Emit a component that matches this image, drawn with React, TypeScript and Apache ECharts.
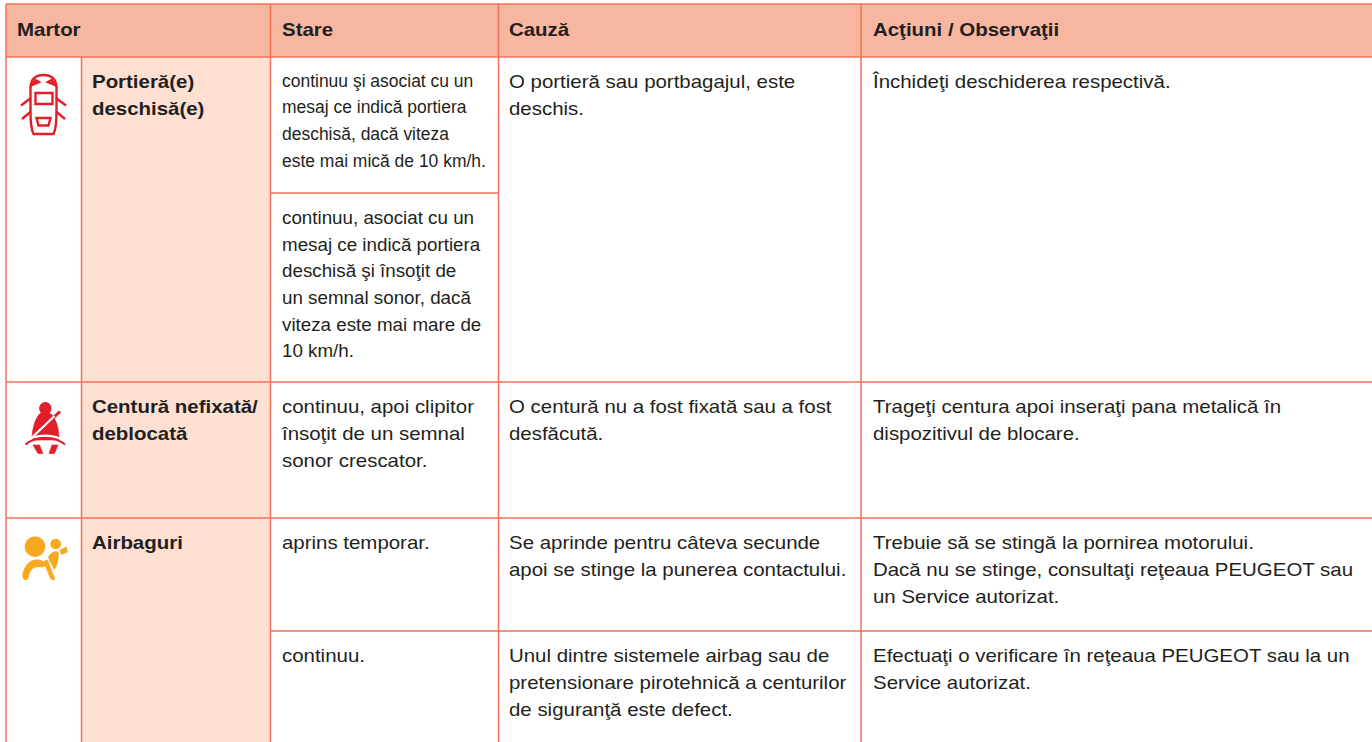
import React, { useEffect, useRef } from "react";
import * as echarts from "echarts";

const headers = ["Martor", "Stare", "Cauză", "Acţiuni / Observaţii"];
const doorName = ["Portieră(e)", "deschisă(e)"];
const doorState1 = ["continuu şi asociat cu un", "mesaj ce indică portiera", "deschisă, dacă viteza", "este mai mică de 10 km/h."];
const doorState2 = ["continuu, asociat cu un", "mesaj ce indică portiera", "deschisă şi însoţit de", "un semnal sonor, dacă", "viteza este mai mare de", "10 km/h."];
const doorCause = ["O portieră sau portbagajul, este", "deschis."];
const doorAction = ["Închideţi deschiderea respectivă."];
const beltName = ["Centură nefixată/", "deblocată"];
const beltState = ["continuu, apoi clipitor", "însoţit de un semnal", "sonor crescator."];
const beltCause = ["O centură nu a fost fixată sau a fost", "desfăcută."];
const beltAction = ["Trageţi centura apoi inseraţi pana metalică în", "dispozitivul de blocare."];
const airName = ["Airbaguri"];
const airState1 = ["aprins temporar."];
const airCause1 = ["Se aprinde pentru câteva secunde", "apoi se stinge la punerea contactului."];
const airAction1 = ["Trebuie să se stingă la pornirea motorului.", "Dacă nu se stinge, consultaţi reţeaua PEUGEOT sau", "un Service autorizat."];
const airState2 = ["continuu."];
const airCause2 = ["Unul dintre sistemele airbag sau de", "pretensionare pirotehnică a centurilor", "de siguranţă este defect."];
const airAction2 = ["Efectuaţi o verificare în reţeaua PEUGEOT sau la un", "Service autorizat."];

const INK = "#231F20";
const LINE = "#F2705A";
const HEAD = "#F7B6A0";
const NAME = "#FDE0D2";
const RED = "#E31E2B";
const AMBER = "#F7A81E";
const FONT = "'Liberation Sans', Arial, sans-serif";

const X = { left: 6, icon: 81.5, name: 270.5, state: 498.5, cause: 861, right: 1372 };
const Y = { top: 4, head: 57, door2: 193, belt: 382, air: 518, air2: 631, bottom: 742 };
const LH = 26.7;
const SIZE = 18.5;
const SX_BODY = 1.105;
const SX_BOLD = 1.105;
const SX_WIDE = 1.016;
const SX_TIGHT = 0.945;

const carBody = "M30.5 88 C30.5 78 37 75 43.5 75 C50 75 56.5 78 56.5 88 L56.5 112 C56.5 122 55.5 130 53.5 134 L33.5 134 C31.5 130 30.5 122 30.5 112 Z";
const carDetail = "M35.5 93 L52.5 93 L52.5 104 L35.5 104 Z M36.5 118 L50.5 118 L48.5 125.5 L38.5 125.5 Z M32 85 L35.5 80 L39 82 Z M55 85 L51.5 80 L48 82 Z M31 98 L21 105.5 M56 98 L66 105.5 M31 111.5 L22 119 M56 111.5 L65 119";
const beltBody = "M39.5 414 C41 412 49 412 51 414 C56 419 59 427 59 440 L32 440 C32 429 35 419 39.5 414 Z";
const legs = "M33 445 L38 453.5 L43 453.5 L39.5 445 Z M58 445 L54.5 453.5 L49 453.5 L52 445 Z";
const lap = "M25.5 443.5 C34 435 56 435 65 443.5";
const airBody = "M25 579.5 C23 579 22.5 576.5 23 574 C24 568 28 562 33 560.5 C37 559.5 43 559.5 46.5 565 L42 567 C38 566 34 566.5 31 570 C28.5 573 28.5 578 27.5 579 C27 579.6 26 579.7 25 579.5 Z";
const airTorso = "M48.5 556.5 C51 553 53.5 551.5 56 551.5 C58 551.5 58.5 553 58.5 555 C58.5 560 57 565.5 54.5 569.5 L49.5 560.5 Z M43.5 561.5 L51 579.5 L55 579.5 L47.5 560 Z";

echarts.graphic.registerShape("carBody", echarts.graphic.extendPath(carBody, {}));
echarts.graphic.registerShape("carDetail", echarts.graphic.extendPath(carDetail, {}));
echarts.graphic.registerShape("beltBody", echarts.graphic.extendPath(beltBody, {}));
echarts.graphic.registerShape("legs", echarts.graphic.extendPath(legs, {}));
echarts.graphic.registerShape("lap", echarts.graphic.extendPath(lap, {}));
echarts.graphic.registerShape("airBody", echarts.graphic.extendPath(airBody, {}));
echarts.graphic.registerShape("airTorso", echarts.graphic.extendPath(airTorso, {}));

function lines(arr: string[], x: number, top: number, opt: any = {}) {
  return arr.map((t, i) => ({
    type: "text",
    x,
    y: top + 24.5 + i * LH,
    scaleX: opt.sx ?? SX_BODY,
    z: 10,
    style: {
      text: t,
      x: 0,
      y: 0,
      fill: INK,
      font: `${opt.bold ? "bold " : ""}${SIZE}px ${FONT}`,
      verticalAlign: "middle",
    },
  }));
}

function seg(x1: number, y1: number, x2: number, y2: number) {
  return { type: "line", z: 5, shape: { x1, y1, x2, y2 }, style: { stroke: LINE, lineWidth: 1.5 } };
}

function buildGraphic() {
  const g: any[] = [];
  g.push({ type: "rect", z: 1, shape: { x: X.left, y: Y.top, width: X.right - X.left, height: Y.head - Y.top }, style: { fill: HEAD } });
  g.push({ type: "rect", z: 1, shape: { x: X.icon, y: Y.head, width: X.name - X.icon, height: Y.bottom - Y.head }, style: { fill: NAME } });
  g.push(seg(X.left, Y.top, X.right, Y.top), seg(X.left, Y.head, X.right, Y.head));
  g.push(seg(X.left, Y.top, X.left, Y.bottom), seg(X.icon, Y.head, X.icon, Y.bottom));
  for (const x of [X.name, X.state, X.cause]) g.push(seg(x, Y.top, x, Y.bottom));
  g.push(seg(X.name, Y.door2, X.state, Y.door2));
  g.push(seg(X.left, Y.belt, X.right, Y.belt), seg(X.left, Y.air, X.right, Y.air), seg(X.name, Y.air2, X.right, Y.air2));

  const hx = [17, 282, 509, 873];
  const bold = { bold: true, sx: SX_BOLD };
  headers.forEach((h, i) => g.push(...lines([h], hx[i], Y.top + 0.5, bold)));

  const cols = { name: 92, state: 282, cause: 509, action: 873 };
  g.push(...lines(doorName, cols.name, Y.head, bold));
  g.push(...lines(doorState1, cols.state, Y.head - 1, { sx: SX_TIGHT }));
  g.push(...lines(doorState2, cols.state, Y.door2, { sx: SX_WIDE }));
  g.push(...lines(doorCause, cols.cause, Y.head));
  g.push(...lines(doorAction, cols.action, Y.head));
  g.push(...lines(beltName, cols.name, Y.belt, bold));
  g.push(...lines(beltState, cols.state, Y.belt));
  g.push(...lines(beltCause, cols.cause, Y.belt));
  g.push(...lines(beltAction, cols.action, Y.belt));
  g.push(...lines(airName, cols.name, Y.air, bold));
  g.push(...lines(airState1, cols.state, Y.air));
  g.push(...lines(airCause1, cols.cause, Y.air));
  g.push(...lines(airAction1, cols.action, Y.air));
  g.push(...lines(airState2, cols.state, Y.air2));
  g.push(...lines(airCause2, cols.cause, Y.air2));
  g.push(...lines(airAction2, cols.action, Y.air2));

  g.push({ type: "carBody", z: 8, style: { fill: "none", stroke: RED, lineWidth: 2.4 } });
  g.push({ type: "carDetail", z: 8, style: { fill: "none", stroke: RED, lineWidth: 2.4 } });

  g.push({ type: "circle", z: 8, shape: { cx: 45.3, cy: 408.3, r: 6.2 }, style: { fill: RED } });
  g.push({ type: "beltBody", z: 8, style: { fill: RED, stroke: RED, lineWidth: 0.6 } });
  g.push({ type: "line", z: 8, shape: { x1: 60, y1: 411.5, x2: 50, y2: 421 }, style: { stroke: RED, lineWidth: 3 } });
  g.push({ type: "line", z: 9, shape: { x1: 54.5, y1: 416, x2: 31, y2: 438.5 }, style: { stroke: "#fff", lineWidth: 2.2 } });
  g.push({ type: "lap", z: 9, y: -1.5, style: { fill: "none", stroke: "#fff", lineWidth: 2.2 } });
  g.push({ type: "lap", z: 9, y: 1, style: { fill: "none", stroke: RED, lineWidth: 2 } });
  g.push({ type: "legs", z: 8, style: { fill: RED, stroke: RED, lineWidth: 0.6 } });

  g.push({ type: "circle", z: 8, shape: { cx: 35, cy: 546.7, r: 10.3 }, style: { fill: AMBER } });
  g.push({ type: "circle", z: 8, shape: { cx: 55.7, cy: 544, r: 5.3 }, style: { fill: AMBER } });
  g.push({ type: "polygon", z: 8, shape: { points: [[59.5, 550], [66.5, 546.5], [67.8, 552], [61.5, 555]] }, style: { fill: AMBER } });
  g.push({ type: "airBody", z: 8, style: { fill: AMBER, stroke: AMBER, lineWidth: 1 } });
  g.push({ type: "airTorso", z: 8, style: { fill: AMBER, stroke: AMBER, lineWidth: 0.6 } });
  return g;
}

export default function App() {
  const ref = useRef<HTMLDivElement>(null);
  useEffect(() => {
    const chart = echarts.init(ref.current!, undefined, { renderer: "svg" });
    chart.setOption({ animation: false, backgroundColor: "#fff", graphic: { elements: buildGraphic() } });
    return () => chart.dispose();
  }, []);
  return <div ref={ref} style={{ position: "fixed", left: 0, top: 0, width: 1372, height: 742 }} />;
}
